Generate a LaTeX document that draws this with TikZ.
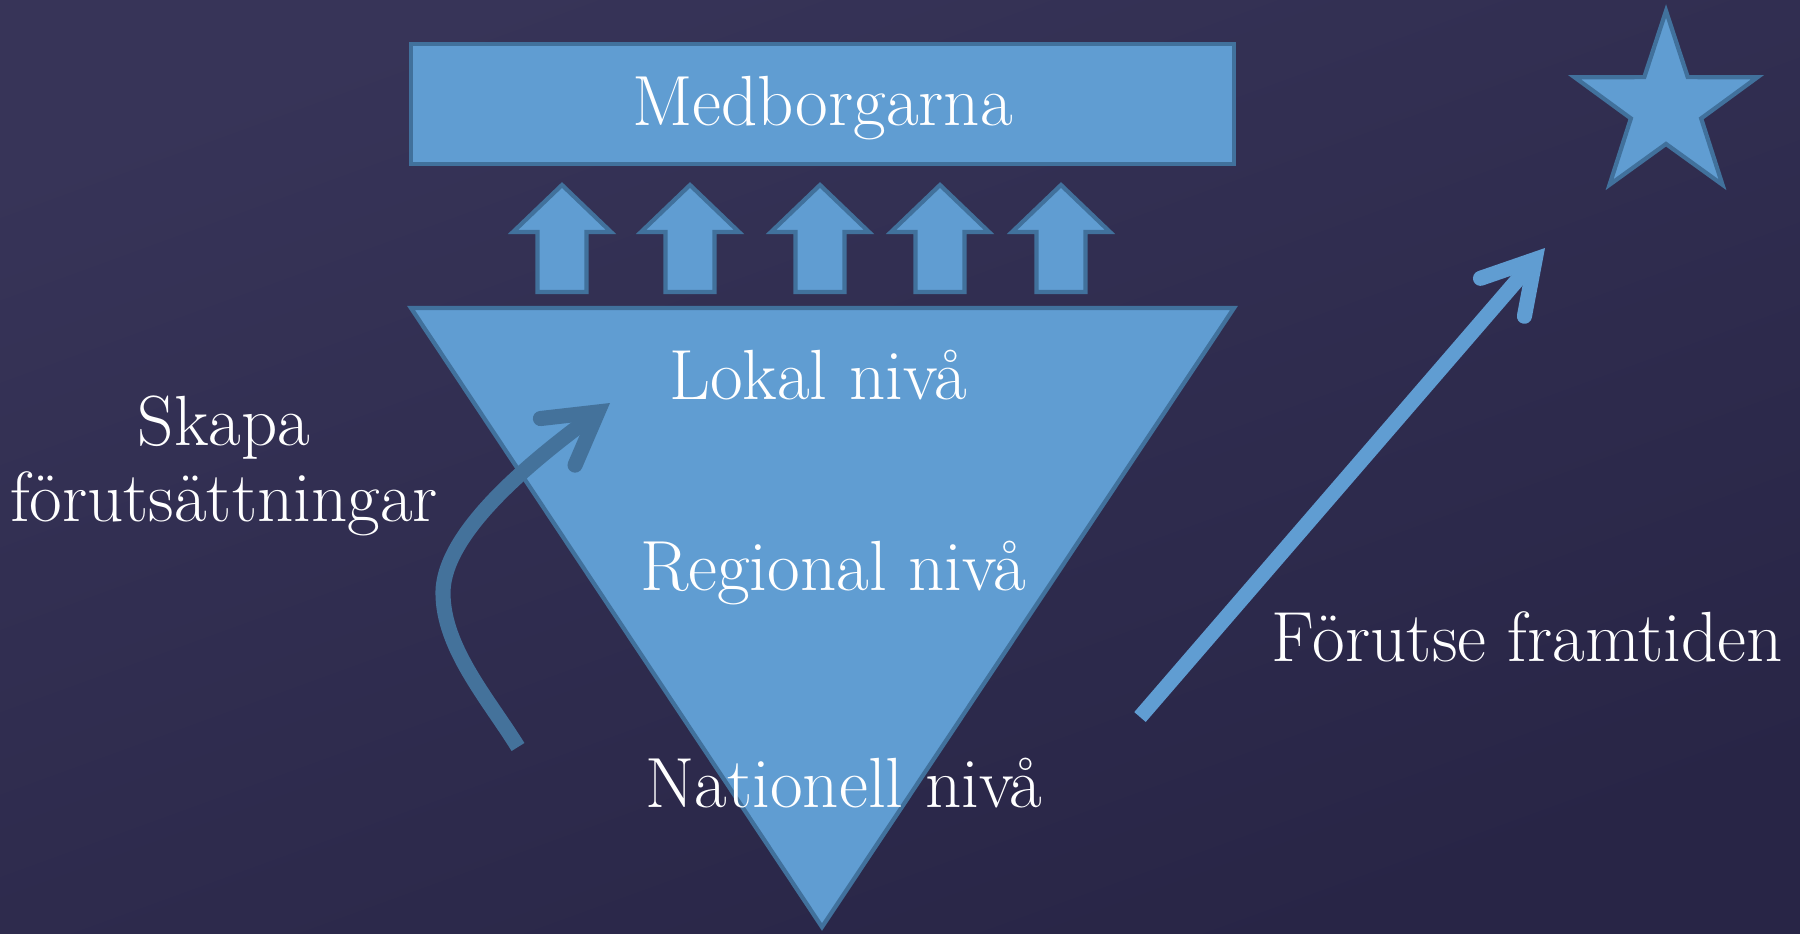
\documentclass[tikz,border=0pt]{standalone}
\usepackage{tikz}
\usetikzlibrary{shapes.geometric,arrows.meta,positioning}

\definecolor{bgtop}{RGB}{55,52,88}
\definecolor{bgbot}{RGB}{40,37,70}
\definecolor{lvlfill}{RGB}{96,157,210}
\definecolor{lvlline}{RGB}{65,113,156}
\definecolor{bendblue}{RGB}{68,114,155}

\tikzset{
  lvl/.style={fill=lvlfill, draw=lvlline, line width=1.2pt, line join=miter},
  txt/.style={text=white, font=\fontsize{20.2}{21.8}\selectfont, inner sep=0pt},
  barb/.style={-{Straight Barb[length=0.5cm,width=0.58cm,line cap=round,line join=miter]}, line width=4.3pt}
}

\begin{document}
\begin{tikzpicture}[x=0.01cm,y=-0.01cm]
	\useasboundingbox (0,0) rectangle (1800,933);
	\shade[top color=bgtop, bottom color=bgbot, shading angle=20] (0,0) rectangle (1800,933);
	
	% top box and levels
	\node[lvl, txt, minimum width=8.23cm, minimum height=1.2cm, text height=0.5cm, text depth=0.08cm] (medb) at (822.5,104) {Medborgarna};
	\draw[lvl] (411,308) -- (1234,308) -- (822,927) -- cycle;
	
	\foreach \x in {562,690,820,940,1061}
		\draw[lvl] (\x,185) -- ++(49,47) -- ++(-24.5,0) -- ++(0,60) -- ++(-49,0) -- ++(0,-60) -- ++(-24.5,0) -- cycle;
	
	\node[txt, anchor=base] (lokal) at (818,399.5) {Lokal nivå};
	\node[txt, anchor=base] (regional) at (833,590) {Regional nivå};
	\node[txt, anchor=base] (nationell) at (844,807) {Nationell nivå};
	
	\node[txt, align=center] (skapa) at (224,466) {Skapa\\förutsättningar};
	\node[txt, anchor=base] (framtid) at (1527,661) {Förutse framtiden};
	
	\node[lvl, star, star points=5, star point ratio=2.6, minimum size=1.92cm, inner sep=0pt] (stjarna) at (1666,107) {};
	
	% arrows
	\coordinate (bstart) at (518,747);
	\coordinate (bmid) at (443,593);
	\coordinate (btip) at (610,403);
	\draw[barb, bendblue] (bstart) .. controls (489,700) and (443,648) .. (bmid)
		.. controls (443,530) and (540,455) .. (btip);
	
	\coordinate (fstart) at (1140,717);
	\coordinate (ftip) at (1545,248);
	\draw[barb, lvlfill] (fstart) -- (ftip);
\end{tikzpicture}
\end{document}
